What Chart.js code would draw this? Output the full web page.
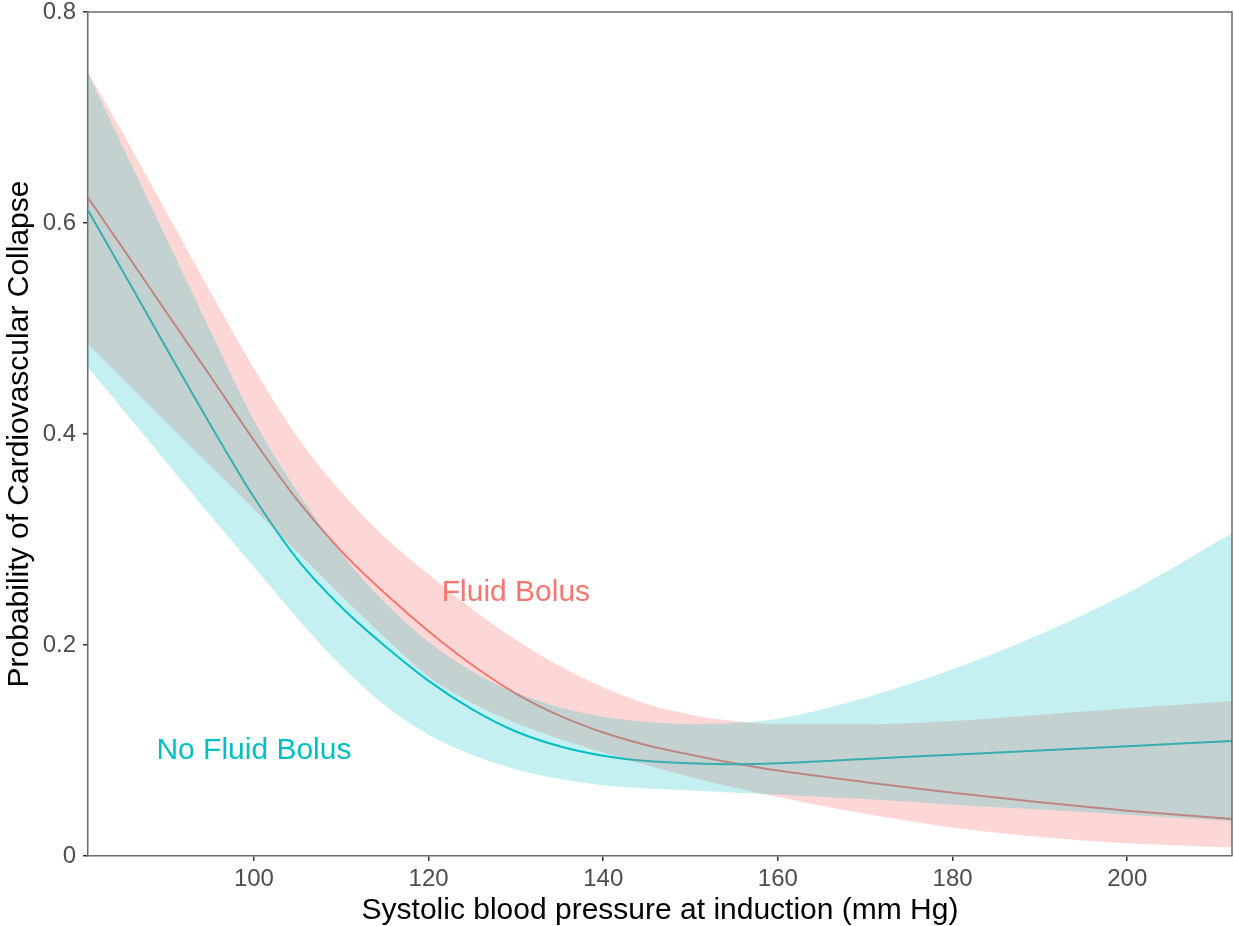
<!DOCTYPE html>
<html>
<head>
<meta charset="utf-8">
<title>Probability of Cardiovascular Collapse</title>
<script src="https://cdn.jsdelivr.net/npm/chart.js@4.4.1/dist/chart.umd.min.js"></script>
<style>
  html, body { margin: 0; padding: 0; background: #fff; }
  canvas { display: block; }
</style>
</head>
<body>
<canvas id="collapseChart" width="1234" height="926"></canvas>
<script>
// systolic blood pressure at induction (mm Hg)
const sbp = [81, 85, 90, 95, 100, 105, 110, 115, 120, 125, 130, 135, 140, 145, 150, 155, 160, 170, 180, 190, 200, 212];

// Fluid Bolus: fitted probability and confidence band
const fluidFit   = [0.624, 0.576, 0.515, 0.455, 0.394, 0.337, 0.289, 0.249, 0.213, 0.181, 0.154, 0.133, 0.117, 0.105, 0.096, 0.088, 0.081, 0.070, 0.060, 0.051, 0.043, 0.035];
const fluidLower = [0.485, 0.452, 0.411, 0.370, 0.329, 0.288, 0.247, 0.207, 0.170, 0.145, 0.126, 0.111, 0.098, 0.086, 0.075, 0.065, 0.056, 0.040, 0.027, 0.018, 0.012, 0.008];
const fluidUpper = [0.743, 0.685, 0.610, 0.535, 0.462, 0.397, 0.345, 0.302, 0.267, 0.234, 0.205, 0.180, 0.160, 0.144, 0.134, 0.128, 0.125, 0.125, 0.128, 0.134, 0.140, 0.147];

// No Fluid Bolus
const noFluidFit   = [0.612, 0.554, 0.481, 0.409, 0.340, 0.281, 0.236, 0.199, 0.166, 0.139, 0.118, 0.104, 0.095, 0.090, 0.088, 0.087, 0.088, 0.092, 0.096, 0.100, 0.104, 0.109];
const noFluidLower = [0.463, 0.423, 0.373, 0.323, 0.274, 0.225, 0.180, 0.143, 0.115, 0.096, 0.082, 0.073, 0.067, 0.064, 0.062, 0.060, 0.058, 0.054, 0.0485, 0.044, 0.039, 0.033];
const noFluidUpper = [0.742, 0.672, 0.585, 0.498, 0.413, 0.345, 0.287, 0.240, 0.203, 0.175, 0.155, 0.141, 0.132, 0.127, 0.125, 0.126, 0.130, 0.150, 0.177, 0.210, 0.249, 0.306];

const xTicks = [100, 120, 140, 160, 180, 200];
const yTicks = [0, 0.2, 0.4, 0.6, 0.8];
const yTickLabels = ["0", "0.2", "0.4", "0.6", "0.8"];

const groupNames = ["Fluid Bolus", "No Fluid Bolus"];
const groupLabelAt = [[130, 0.25], [100, 0.1]];

const red = "#F8766D";
const teal = "#00BFC4";
const font = "'Liberation Sans', Arial, Helvetica, sans-serif";

const pts = ys => sbp.map((x, i) => ({ x: x, y: ys[i] }));

const lineDefaults = {
  pointRadius: 0,
  pointHoverRadius: 0,
  cubicInterpolationMode: "monotone",
  fill: false
};

// top and right edges of the panel box
const panelBox = {
  id: "panelBox",
  afterDatasetsDraw(chart) {
    const { ctx, chartArea: a } = chart;
    ctx.save();
    ctx.strokeStyle = "#6b6b6b";
    ctx.lineWidth = 1.5;
    ctx.beginPath();
    ctx.moveTo(a.left, a.top);
    ctx.lineTo(a.right, a.top);
    ctx.lineTo(a.right, a.bottom);
    ctx.stroke();
    ctx.restore();
  }
};

const groupLabels = {
  id: "groupLabels",
  afterDatasetsDraw(chart) {
    const { ctx, scales } = chart;
    const colors = [red, teal];
    ctx.save();
    ctx.font = "30px " + font;
    ctx.textAlign = "center";
    ctx.textBaseline = "middle";
    groupNames.forEach((name, i) => {
      ctx.fillStyle = colors[i];
      ctx.fillText(name, scales.x.getPixelForValue(groupLabelAt[i][0]), scales.y.getPixelForValue(groupLabelAt[i][1]));
    });
    ctx.restore();
  }
};

const ctx = document.getElementById("collapseChart").getContext("2d");

new Chart(ctx, {
  type: "line",
  data: {
    datasets: [
      { ...lineDefaults, label: "Fluid Bolus", data: pts(fluidFit), borderColor: red, borderWidth: 2, order: 10 },
      { ...lineDefaults, label: "No Fluid Bolus", data: pts(noFluidFit), borderColor: teal, borderWidth: 2, order: 9 },
      { ...lineDefaults, label: "Fluid lower", data: pts(fluidLower), borderWidth: 0, borderColor: "rgba(0,0,0,0)", order: 8 },
      { ...lineDefaults, label: "Fluid upper", data: pts(fluidUpper), borderWidth: 0, borderColor: "rgba(0,0,0,0)",
        fill: 2, backgroundColor: "rgba(248,118,109,0.29)", order: 7 },
      { ...lineDefaults, label: "No fluid lower", data: pts(noFluidLower), borderWidth: 0, borderColor: "rgba(0,0,0,0)", order: 6 },
      { ...lineDefaults, label: "No fluid upper", data: pts(noFluidUpper), borderWidth: 0, borderColor: "rgba(0,0,0,0)",
        fill: 4, backgroundColor: "rgba(0,191,196,0.23)", order: 5 }
    ]
  },
  options: {
    responsive: false,
    animation: false,
    devicePixelRatio: 1,
    layout: { padding: { top: 12, right: 2, left: 0, bottom: 0 } },
    plugins: {
      legend: { display: false },
      tooltip: { enabled: false },
      filler: { drawTime: "beforeDatasetDraw" }
    },
    scales: {
      x: {
        type: "linear",
        min: 81,
        max: 212,
        afterBuildTicks: scale => { scale.ticks = xTicks.map(v => ({ value: v })); },
        afterFit: scale => { scale.height = 70; scale.paddingLeft = 0; scale.paddingRight = 0; },
        grid: { drawOnChartArea: false, drawTicks: true, tickLength: 5, color: "#333333", lineWidth: 1.5 },
        border: { color: "#6b6b6b", width: 1.5 },
        ticks: {
          color: "#4D4D4D",
          padding: 4,
          maxRotation: 0,
          font: { family: font, size: 24 },
          callback: v => String(v)
        },
        title: {
          display: true,
          text: "Systolic blood pressure at induction (mm Hg)",
          color: "#000000",
          font: { family: font, size: 30, lineHeight: 0.8 },
          padding: { top: 0, bottom: 3 }
        }
      },
      y: {
        type: "linear",
        min: 0,
        max: 0.8,
        afterBuildTicks: scale => { scale.ticks = yTicks.map(v => ({ value: v })); },
        afterFit: scale => { scale.width = 88; scale.paddingTop = 0; scale.paddingBottom = 0; },
        grid: { drawOnChartArea: false, drawTicks: true, tickLength: 5, color: "#333333", lineWidth: 1.5 },
        border: { color: "#6b6b6b", width: 1.5 },
        ticks: {
          color: "#4D4D4D",
          padding: 7,
          font: { family: font, size: 24 },
          callback: (v, i) => yTickLabels[i]
        },
        title: {
          display: true,
          text: "Probability of Cardiovascular Collapse",
          color: "#000000",
          font: { family: font, size: 30, lineHeight: 1 },
          padding: { top: 5, bottom: 0 }
        }
      }
    }
  },
  plugins: [panelBox, groupLabels]
});
</script>
</body>
</html>
